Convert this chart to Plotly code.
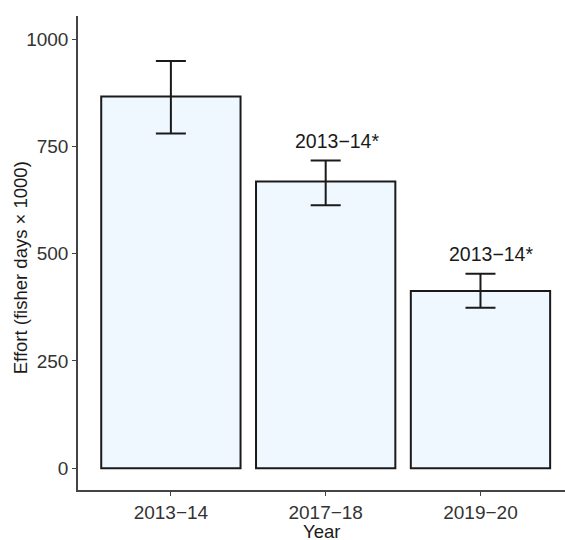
import plotly.graph_objects as go

# Survey years and estimated fishing effort (fisher days x 1000)
years = ["2013\u221214", "2017\u221218", "2019\u221220"]
effort = [866, 668, 413]
effort_lower = [780, 613, 374]
effort_upper = [949, 717, 453]
# significance labels shown above the error bars (blank = no label)
sig_labels = ["", "2013\u221214*", "2013\u221214*"]

y_ticks = [0, 250, 500, 750, 1000]

x_pos = list(range(1, len(years) + 1))
err_plus = [u - v for u, v in zip(effort_upper, effort)]
err_minus = [v - l for v, l in zip(effort, effort_lower)]

FONT = "Liberation Sans, Arial, sans-serif"

fig = go.Figure()
fig.add_trace(go.Bar(
    x=x_pos,
    y=effort,
    width=0.9,
    marker=dict(color="#F0F8FF", line=dict(color="#1a1a1a", width=2)),
    error_y=dict(
        type="data",
        symmetric=False,
        array=err_plus,
        arrayminus=err_minus,
        color="#1a1a1a",
        thickness=2,
        width=15,
    ),
    showlegend=False,
    hoverinfo="skip",
))

# labels sit a fixed distance above each upper error limit
for xp, up, lab in zip(x_pos, effort_upper, sig_labels):
    if lab:
        fig.add_annotation(
            x=xp, y=up + 46, text=lab, showarrow=False,
            xanchor="center", yanchor="middle", xshift=11,
            font=dict(family=FONT, size=19.5, color="#1a1a1a"),
        )

# axis titles
fig.add_annotation(
    x=-0.119, y=0.468, xref="paper", yref="paper",
    text="Effort (fisher days \u00d7 1000)", textangle=-90, showarrow=False,
    xanchor="center", yanchor="middle",
    font=dict(family=FONT, size=18.5, color="#1a1a1a"),
)
fig.add_annotation(
    x=0.499, y=-0.0886, xref="paper", yref="paper",
    text="Year", showarrow=False, xanchor="center", yanchor="middle",
    font=dict(family=FONT, size=18.5, color="#1a1a1a"),
)

fig.update_layout(
    width=565,
    height=540,
    margin=dict(l=78, r=0, t=16, b=50),
    plot_bgcolor="white",
    paper_bgcolor="white",
    font=dict(family=FONT, size=19, color="#4D4D4D"),
    xaxis=dict(
        range=[0.4, 3.546],
        tickvals=x_pos,
        ticktext=years,
        showline=True, linecolor="#444444", linewidth=1.5,
        ticks="outside", ticklen=4, tickcolor="#444444", tickwidth=1,
        showgrid=False, zeroline=False,
        tickfont=dict(family=FONT, size=19, color="#333333"),
    ),
    yaxis=dict(
        range=[-50.5, 1053.6],
        tickvals=y_ticks,
        showline=True, linecolor="#444444", linewidth=1.5,
        ticks="outside", ticklen=4, tickcolor="#444444", tickwidth=1,
        showgrid=False, zeroline=False,
        tickfont=dict(family=FONT, size=19, color="#333333"),
    ),
    bargap=0.1,
)

fig.write_html("out.html")
